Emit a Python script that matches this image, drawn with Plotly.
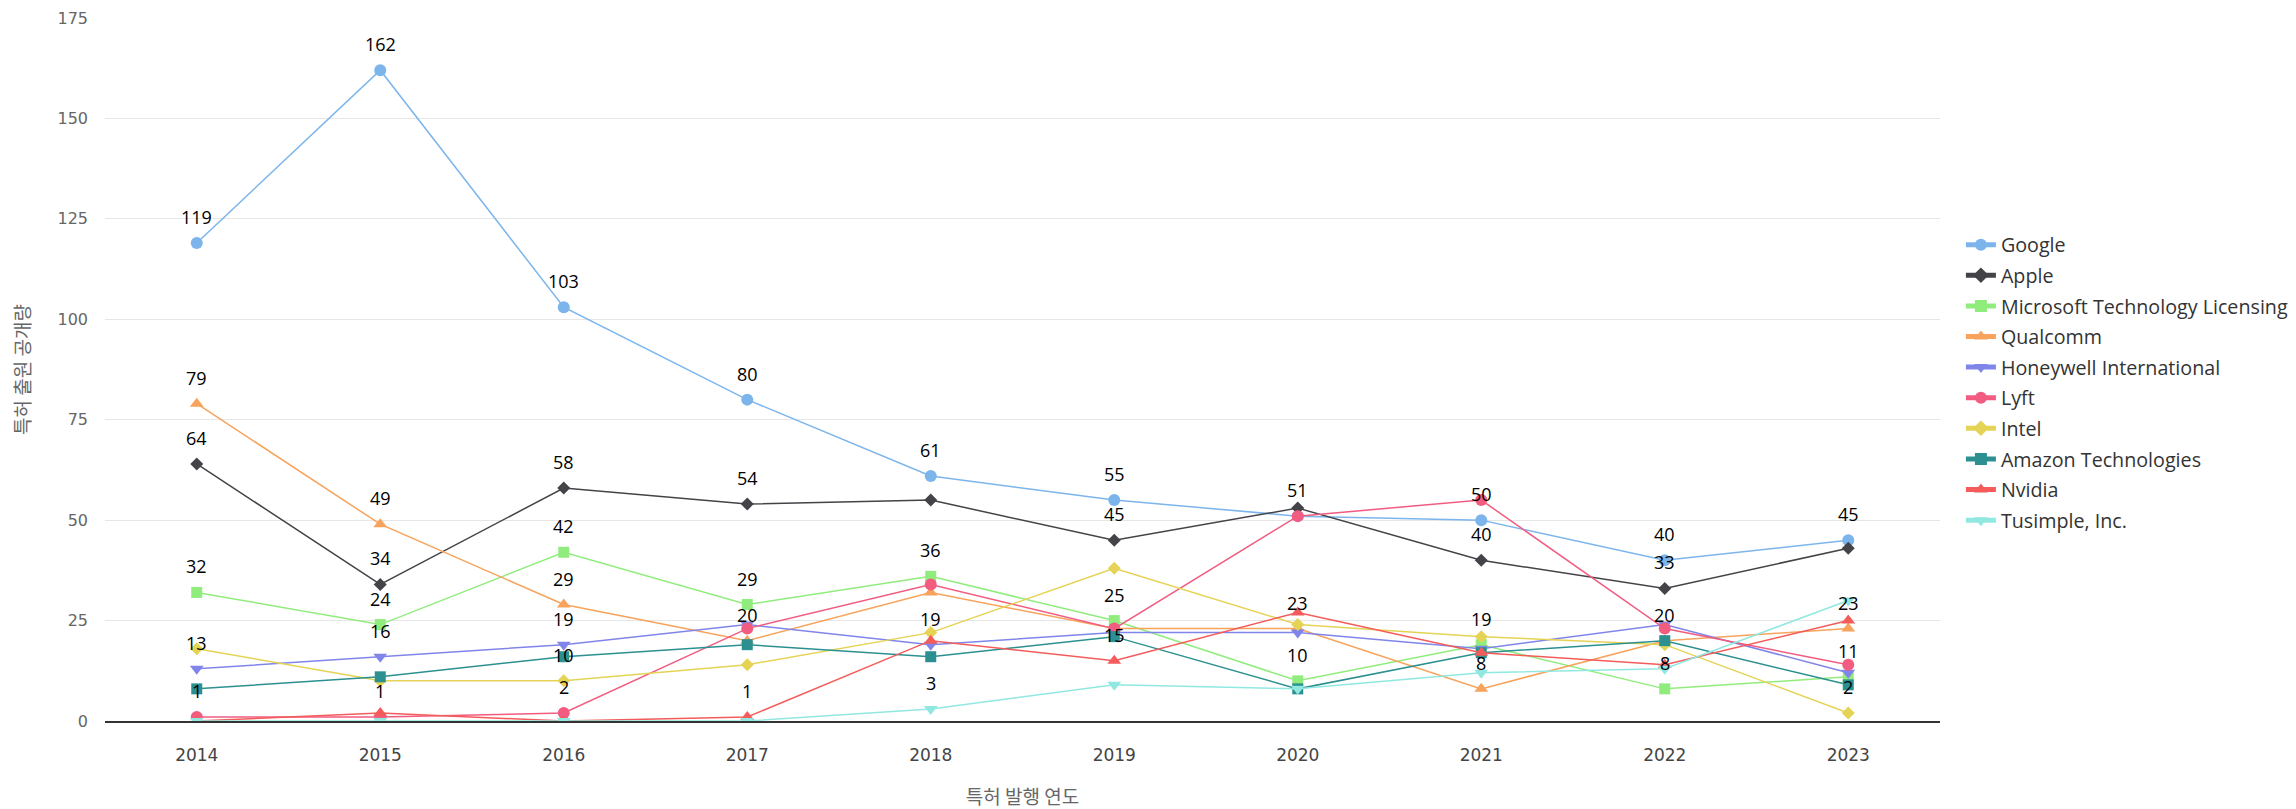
import plotly.graph_objects as go

years = [2014, 2015, 2016, 2017, 2018, 2019, 2020, 2021, 2022, 2023]

google = [119, 162, 103, 80, 61, 55, 51, 50, 40, 45]
apple = [64, 34, 58, 54, 55, 45, 53, 40, 33, 43]
microsoft = [32, 24, 42, 29, 36, 25, 10, 19, 8, 11]
qualcomm = [79, 49, 29, 20, 32, 23, 23, 8, 20, 23]
honeywell = [13, 16, 19, 24, 19, 22, 22, 18, 24, 12]
lyft = [1, 1, 2, 23, 34, 23, 51, 55, 23, 14]
intel = [18, 10, 10, 14, 22, 38, 24, 21, 19, 2]
amazon = [8, 11, 16, 19, 16, 21, 8, 17, 20, 9]
nvidia = [0, 2, 0, 1, 20, 15, 27, 17, 14, 25]
tusimple = [0, 0, 0, 0, 3, 9, 8, 12, 13, 30]

# years whose value label is visible (others hidden by overlap in the original)
google_labels = [2014, 2015, 2016, 2017, 2018, 2019, 2020, 2021, 2022, 2023]
apple_labels = [2014, 2015, 2016, 2017, 2019, 2021, 2022]
microsoft_labels = [2014, 2015, 2016, 2017, 2018, 2019, 2020, 2021, 2022, 2023]
qualcomm_labels = [2014, 2015, 2016, 2017, 2020, 2021, 2022, 2023]
honeywell_labels = [2014, 2015, 2016, 2018]
lyft_labels = [2014, 2015, 2016]
intel_labels = [2016, 2023]
amazon_labels = []
nvidia_labels = [2017, 2019]
tusimple_labels = [2018]

series = [
    ("Google", google, google_labels, "#7cb5ec", "circle", 12),
    ("Apple", apple, apple_labels, "#434348", "diamond", 10),
    ("Microsoft Technology Licensing", microsoft, microsoft_labels, "#90ed7d", "square", 11),
    ("Qualcomm", qualcomm, qualcomm_labels, "#f7a35c", "triangle-up", 12),
    ("Honeywell International", honeywell, honeywell_labels, "#8085e9", "triangle-down", 12),
    ("Lyft", lyft, lyft_labels, "#f15c80", "circle", 12),
    ("Intel", intel, intel_labels, "#e4d354", "diamond", 10),
    ("Amazon Technologies", amazon, amazon_labels, "#2b908f", "square", 11),
    ("Nvidia", nvidia, nvidia_labels, "#f45b5b", "triangle-up", 12),
    ("Tusimple, Inc.", tusimple, tusimple_labels, "#91e8e1", "triangle-down", 12),
]

fig = go.Figure()
annotations = []
for i, (name, vals, lab_years, color, sym, msize) in enumerate(series):
    fig.add_trace(go.Scatter(
        x=years, y=vals, name=name, mode="lines+markers",
        legendgroup=f"g{i}",
        line=dict(color=color, width=1.5),
        marker=dict(symbol=sym, size=msize, color=color, line=dict(width=0)),
    ))
    for yr, v in zip(years, vals):
        if yr in lab_years:
            annotations.append(dict(
                x=yr, y=v, xref="x", yref="y", text=str(v), showarrow=False,
                yanchor="middle", yshift=26,
                font=dict(family="Open Sans, Noto Sans, sans-serif", size=18, color="#000000"),
            ))

fig.update_layout(
    width=2330, height=801,
    margin=dict(l=97, r=398, t=10, b=87.5),
    paper_bgcolor="white", plot_bgcolor="white",
    annotations=annotations,
    showlegend=True,
    legend=dict(
        x=1.0114, xanchor="left", y=0.481, yanchor="middle",
        font=dict(family="Open Sans, Liberation Sans, sans-serif", size=19.7, color="#333333"),
        tracegroupgap=2, itemsizing="constant",
        bgcolor="rgba(0,0,0,0)",
    ),
    xaxis=dict(
        range=[2013.5, 2023.5], tickmode="array", tickvals=years,
        ticktext=[str(y) for y in years], automargin=False,
        showgrid=False, zeroline=False,
        showline=True, linecolor="#333333", linewidth=2,
        ticks="", ticklabelstandoff=18,
        tickfont=dict(family="DejaVu Sans", size=17, color="#444444"),
        title=dict(text="특허 발행 연도", standoff=31,
                   font=dict(family="Noto Sans CJK KR", size=19, color="#666666")),
    ),
    yaxis=dict(
        range=[0, 175], tickmode="array", tickvals=[0, 25, 50, 75, 100, 125, 150, 175],
        automargin=False,
        showgrid=True, gridcolor="#e6e6e6", gridwidth=1, zeroline=False,
        showline=False, ticks="", ticklabelstandoff=16,
        tickfont=dict(family="DejaVu Sans", size=16, color="#666666"),
        title=dict(text="특허 출원 공개량", standoff=23,
                   font=dict(family="Noto Sans CJK KR", size=19, color="#666666")),
    ),
)

fig.write_html("out.html")
